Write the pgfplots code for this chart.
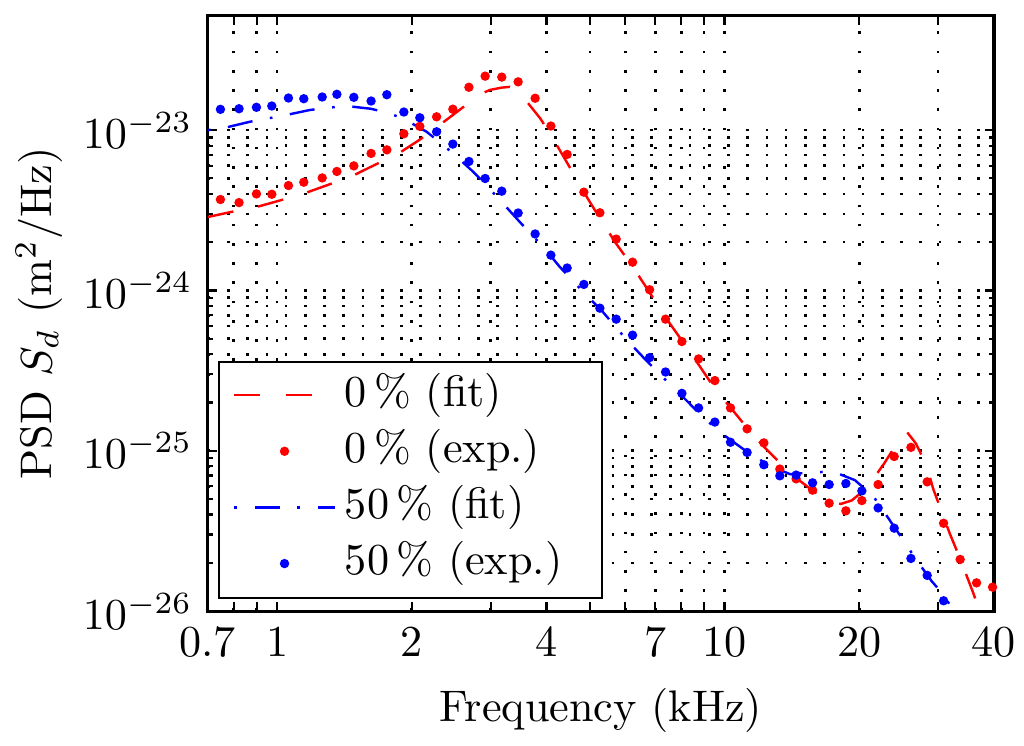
\documentclass[border=0pt]{standalone}
\usepackage{pgfplots}
\pgfplotsset{compat=1.18}
\definecolor{mred}{RGB}{255,0,0}
\definecolor{mblue}{RGB}{0,0,255}
\begin{document}
\begin{tikzpicture}
\begin{axis}[
  name=ax,
  scale only axis,
  width=177.8pt, height=134.6pt,
  xmode=log, ymode=log,
  xmin=0.7, xmax=40, ymin=1e-26, ymax=5.15e-23,
  xtick={0.7,0.8,0.9,1,2,3,4,5,6,7,8,9,10,20,30,40},
  xticklabels={0.7,,,1,2,,4,,,7,,,10,20,,40},
  minor xtick={},
  ytick={1e-26,1e-25,1e-24,1e-23},
  grid=both,
  major grid style={black, line width=0.6pt, dash pattern=on 0.6pt off 3.75pt},
  minor grid style={black, line width=0.6pt, dash pattern=on 0.6pt off 3.75pt},
  tick align=inside, xtick pos=both, ytick pos=both,
  major tick length=2pt, minor tick length=1.1pt,
  every tick/.style={black, line width=0.5pt},
  axis line style={line width=0.7pt},
  xlabel={Frequency (kHz)},
  ylabel={PSD $S_d$ (m$^2$/Hz)},
  ylabel style={yshift=-2.3pt},
  legend cell align=left,
  legend style={at={(0,0)}, anchor=south west, xshift=2.5pt, yshift=2.9pt,
    draw=none, fill=none, row sep=0pt, inner ysep=1.3pt,
    nodes={inner ysep=1.35pt, text height=7.5pt, text depth=2.5pt}},
  legend image code/.code={\draw[mark repeat=2,mark phase=2,#1] plot coordinates {(0cm,0cm) (0.4cm,0cm) (0.8cm,0cm)};},
]
% 0% fit
\addplot[mred, line width=0.55pt, dash pattern=on 5.9pt off 5.7pt] table {
x y
0.700 2.87e-24
0.791 3.09e-24
0.902 3.32e-24
1.018 3.65e-24
1.159 4.06e-24
1.307 4.58e-24
1.474 5.18e-24
1.654 6.07e-24
1.858 7.08e-24
2.077 8.66e-24
2.302 1.07e-23
2.551 1.33e-23
2.839 1.67e-23
2.988 1.78e-23
3.174 1.84e-23
3.313 1.86e-23
3.434 1.80e-23
3.578 1.56e-23
3.876 1.18e-23
4.155 8.66e-24
4.616 5.23e-24
4.949 3.73e-24
5.264 2.82e-24
5.715 1.97e-24
6.229 1.41e-24
6.799 9.72e-25
7.382 6.78e-25
8.029 4.87e-25
8.748 3.45e-25
9.513 2.44e-25
10.31 1.86e-25
11.23 1.39e-25
12.24 1.06e-25
13.29 8.41e-26
14.45 6.78e-26
15.75 5.62e-26
17.11 4.87e-26
18.19 4.66e-26
19.25 4.90e-26
20.80 5.87e-26
22.71 8.29e-26
24.65 1.19e-25
25.56 1.31e-25
26.77 1.11e-25
28.29 8.06e-26
29.26 5.79e-26
31.89 3.03e-26
33.57 2.14e-26
35.95 1.30e-26
38.18 8.06e-27
};
\addlegendentry{0\,\% (fit)}
% 0% exp
\addplot[only marks, mark=*, mark size=0.85pt, mark options={draw=mred, fill=mred}, mred] table {
x y
0.747 3.69e-24
0.822 3.53e-24
0.899 4.00e-24
0.973 3.98e-24
1.060 4.51e-24
1.147 4.73e-24
1.261 5.03e-24
1.360 5.52e-24
1.484 5.98e-24
1.622 7.15e-24
1.759 7.53e-24
1.920 9.48e-24
2.084 1.055e-23
2.272 1.21e-23
2.470 1.35e-23
2.683 1.85e-23
2.917 2.17e-23
3.178 2.14e-23
3.457 2.00e-23
3.773 1.58e-23
4.091 1.06e-23
4.448 7.05e-24
4.848 4.10e-24
5.264 3.05e-24
5.725 2.09e-24
6.229 1.50e-24
6.799 1.01e-24
7.382 6.62e-25
8.029 4.80e-25
8.748 3.74e-25
9.513 2.74e-25
10.31 1.85e-25
11.23 1.37e-25
12.24 1.12e-25
13.29 7.69e-26
14.45 6.68e-26
15.73 5.68e-26
17.13 4.71e-26
18.67 4.22e-26
20.27 4.89e-26
22.04 6.16e-26
23.94 9.21e-26
26.09 1.05e-25
28.37 6.40e-26
30.87 3.53e-26
33.62 2.10e-26
36.58 1.50e-26
39.72 1.41e-26
};
\addlegendentry{0\,\% (exp.)}
% 50% fit
\addplot[mblue, line width=0.55pt, dash pattern=on 0.6pt off 4pt on 5.7pt off 4pt] table {
x y
0.700 1.00e-23
0.771 1.040e-23
0.869 1.127e-23
0.955 1.183e-23
1.046 1.241e-23
1.183 1.334e-23
1.300 1.379e-23
1.429 1.413e-23
1.617 1.359e-23
1.770 1.283e-23
1.929 1.166e-23
2.158 9.76e-24
2.318 8.33e-24
2.483 7.08e-24
2.734 5.54e-24
2.912 4.64e-24
3.200 3.48e-24
3.487 2.67e-24
3.966 1.82e-24
4.284 1.40e-24
4.873 9.54e-25
5.310 7.50e-25
6.017 4.99e-25
6.579 3.83e-25
7.217 2.94e-25
8.016 2.21e-25
8.990 1.60e-25
9.897 1.27e-25
11.20 9.90e-26
12.62 8.06e-26
14.00 7.15e-26
15.65 7.32e-26
16.76 7.39e-26
17.94 7.21e-26
19.55 6.56e-26
21.48 5.23e-26
24.43 3.09e-26
26.63 2.15e-26
29.02 1.54e-26
30.81 1.27e-26
32.71 9.76e-27
34.44 8.06e-27
};
\addlegendentry{50\,\% (fit)}
% 50% exp
\addplot[only marks, mark=*, mark size=0.85pt, mark options={draw=mblue, fill=mblue}, mblue] table {
x y
0.747 1.347e-23
0.822 1.359e-23
0.899 1.387e-23
0.973 1.413e-23
1.060 1.585e-23
1.147 1.569e-23
1.261 1.608e-23
1.360 1.672e-23
1.484 1.601e-23
1.622 1.518e-23
1.759 1.662e-23
1.920 1.296e-23
2.084 1.194e-23
2.272 9.76e-24
2.470 8.18e-24
2.683 6.37e-24
2.917 4.99e-24
3.178 4.16e-24
3.457 3.04e-24
3.773 2.25e-24
4.091 1.66e-24
4.448 1.38e-24
4.848 1.09e-24
5.264 7.75e-25
5.725 6.62e-25
6.229 5.26e-25
6.799 3.81e-25
7.382 3.10e-25
8.029 2.28e-25
8.748 1.85e-25
9.513 1.51e-25
10.31 1.13e-25
11.23 9.76e-26
12.24 8.18e-26
13.29 6.98e-26
14.45 7.05e-26
15.73 6.31e-26
17.13 6.16e-26
18.67 6.25e-26
20.27 5.62e-26
22.04 4.40e-26
23.94 3.29e-26
26.09 2.13e-26
28.37 1.67e-26
30.87 1.16e-26
};
\addlegendentry{50\,\% (exp.)}
\draw[black, line width=0.5pt, fill=white] (rel axis cs:0.014,0.0218) rectangle (rel axis cs:0.5013,0.4185);
\end{axis}
\pgfresetboundingbox
\path[use as bounding box] ([shift={(-47pt,-30.3pt)}]ax.south west) rectangle ([shift={(6.8pt,3.6pt)}]ax.north east);
\end{tikzpicture}
\end{document}
